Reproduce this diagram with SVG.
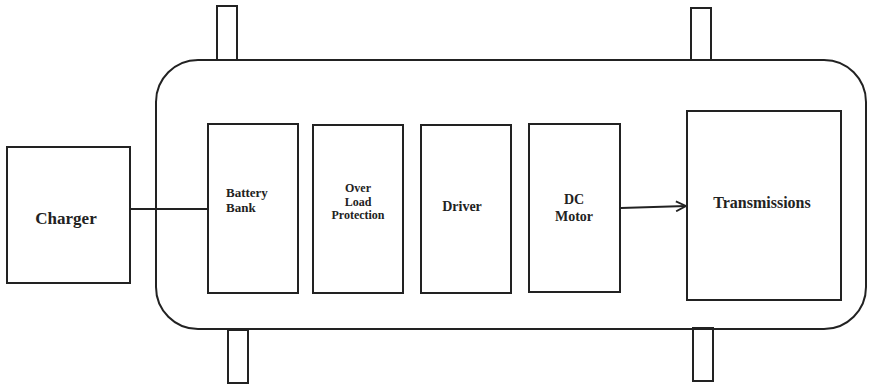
<svg xmlns="http://www.w3.org/2000/svg" width="869" height="385" viewBox="0 0 869 385">
<defs>
<style>
.box{fill:#fff;stroke:#222;stroke-width:2}
.wheel{fill:#fff;stroke:#222;stroke-width:2}
.lbl{font-weight:bold;fill:#222}
.conn{fill:none;stroke:#222;stroke-width:1.8}
</style>
<marker id="open" viewBox="0 0 12 12" refX="11" refY="6" markerWidth="12" markerHeight="12" markerUnits="userSpaceOnUse" orient="auto">
<path d="M1,1 L11,6 L1,11" fill="none" stroke="#222" stroke-width="1.8"/>
</marker>
</defs>
<rect width="869" height="385" fill="#fff"/>
<g id="wheels">
<rect class="wheel" x="217" y="6" width="20" height="54"/>
<rect class="wheel" x="691" y="8" width="20" height="52"/>
<rect class="wheel" x="228" y="330" width="20" height="53"/>
<rect class="wheel" x="693" y="328" width="20" height="53"/>
</g>
<g id="chassis">
<rect x="156" y="60" width="710" height="269" rx="42" ry="42" fill="none" stroke="#222" stroke-width="2"/>
</g>
<g id="connectors">
<line class="conn" x1="131" y1="209" x2="208" y2="209"/>
<line class="conn" x1="621" y1="208" x2="686" y2="206" marker-end="url(#open)"/>
</g>
<g font-family="'Liberation Serif', 'Times New Roman', serif">
<g id="charger">
<rect class="box" x="7" y="147" width="123" height="136"/>
<text class="lbl" x="66" y="224" font-size="17" text-anchor="middle">Charger</text>
</g>
<g id="battery">
<rect class="box" x="208" y="124" width="90" height="169"/>
<text class="lbl" x="226" y="197" font-size="13">Battery</text>
<text class="lbl" x="226" y="212" font-size="13">Bank</text>
</g>
<g id="overload">
<rect class="box" x="313" y="125" width="90" height="168"/>
<text class="lbl" x="358" y="192" font-size="12" text-anchor="middle">Over</text>
<text class="lbl" x="358" y="206" font-size="12" text-anchor="middle">Load</text>
<text class="lbl" x="358" y="219" font-size="12" text-anchor="middle">Protection</text>
</g>
<g id="driver">
<rect class="box" x="421" y="125" width="90" height="168"/>
<text class="lbl" x="462" y="211" font-size="14" text-anchor="middle">Driver</text>
</g>
<g id="dcmotor">
<rect class="box" x="529" y="124" width="91" height="168"/>
<text class="lbl" x="574" y="204" font-size="14" text-anchor="middle">DC</text>
<text class="lbl" x="574" y="221" font-size="14" text-anchor="middle">Motor</text>
</g>
<g id="transmissions">
<rect class="box" x="687" y="111" width="154" height="189"/>
<text class="lbl" x="762" y="208" font-size="16" text-anchor="middle">Transmissions</text>
</g>
</g>
</svg>
